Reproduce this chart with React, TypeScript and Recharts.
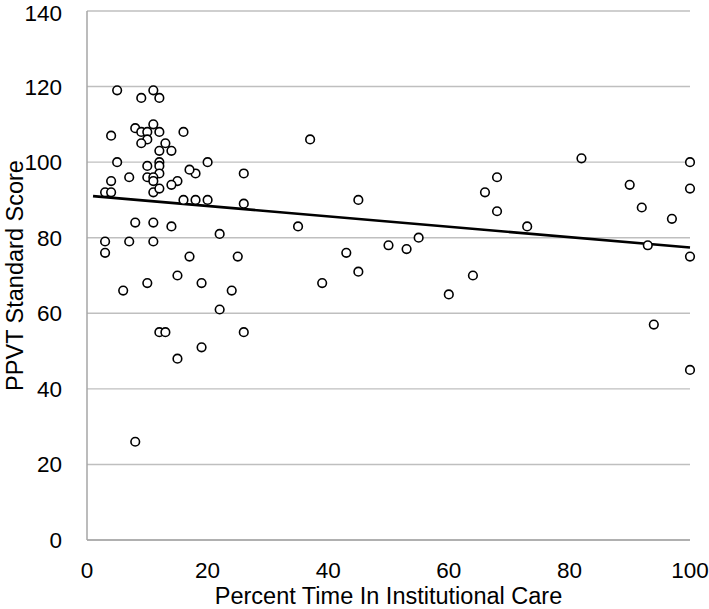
import { ScatterChart, Scatter, XAxis, YAxis, CartesianGrid } from "recharts";

// percent time in institutional care
const careX = [
  5, 11, 9, 12, 11, 8, 9, 10, 12, 16, 4, 10, 9, 13, 12, 14, 37, 5, 12, 20,
  12, 10, 12, 18, 17, 26, 7, 10, 11, 11, 4, 15, 14, 3, 4, 11, 12, 16, 18, 20,
  26, 45, 8, 11, 14, 35, 22, 3, 7, 11, 3, 17, 25, 15, 10, 19, 6, 24, 22, 12,
  13, 26, 19, 15, 8, 39, 43, 45, 50, 53, 55, 60, 64, 66, 68, 68, 73, 82, 90, 92,
  93, 94, 97, 100, 100, 100, 100,
];

// PPVT standard score
const ppvt = [
  119, 119, 117, 117, 110, 109, 108, 108, 108, 108, 107, 106, 105, 105, 103, 103, 106, 100, 100, 100,
  99, 99, 97, 97, 98, 97, 96, 96, 96, 95, 95, 95, 94, 92, 92, 92, 93, 90, 90, 90,
  89, 90, 84, 84, 83, 83, 81, 79, 79, 79, 76, 75, 75, 70, 68, 68, 66, 66, 61, 55,
  55, 55, 51, 48, 26, 68, 76, 71, 78, 77, 80, 65, 70, 92, 96, 87, 83, 101, 94, 88,
  78, 57, 85, 100, 93, 75, 45,
];

// fitted line ends
const trendX = [1, 100];
const trendY = [91, 77.4];

const xTicks = [0, 20, 40, 60, 80, 100];
const yTicks = [0, 20, 40, 60, 80, 100, 120, 140];

const xTitle = "Percent Time In Institutional Care";
const yTitle = "PPVT Standard Score";

const points = careX.map((x, i) => ({ x, y: ppvt[i] }));
const trend = trendX.map((x, i) => ({ x, y: trendY[i] }));

const font = "'Liberation Sans', Arial, sans-serif";

const Ring = (props: any) => (
  <circle cx={props.cx} cy={props.cy} r={4.3} fill="#fff" stroke="#000" strokeWidth={1.6} />
);

const XTitle = (props: any) => {
  const vb = props.viewBox;
  return (
    <text
      x={vb.x + vb.width / 2}
      y={vb.y + 56}
      textAnchor="middle"
      dominantBaseline="central"
      fontSize={23.5}
      fontFamily={font}
      fill="#000"
    >
      {xTitle}
    </text>
  );
};

const YTitle = (props: any) => {
  const vb = props.viewBox;
  const cx = 15;
  const cy = vb.y + vb.height / 2;
  return (
    <text
      x={cx}
      y={cy}
      transform={`rotate(-90 ${cx} ${cy})`}
      textAnchor="middle"
      dominantBaseline="central"
      fontSize={23.5}
      fontFamily={font}
      fill="#000"
    >
      {yTitle}
    </text>
  );
};

export default function App() {
  return (
    <div style={{ position: "absolute", left: 0, top: 0, background: "#fff" }}>
      <ScatterChart width={709} height={609} margin={{ top: 11, right: 19, bottom: 0, left: 0 }}>
        <CartesianGrid vertical={false} stroke="#bfbfbf" strokeWidth={1.4} />
        <XAxis
          type="number"
          dataKey="x"
          domain={[0, 100]}
          ticks={xTicks}
          height={69}
          tickLine={false}
          tickSize={0}
          tickMargin={22}
          axisLine={{ stroke: "#a6a6a6", strokeWidth: 1.5 }}
          tick={{ fill: "#000", fontSize: 22.5, fontFamily: font }}
          label={<XTitle />}
        />
        <YAxis
          type="number"
          dataKey="y"
          domain={[0, 140]}
          ticks={yTicks}
          width={87}
          tickLine={false}
          tickSize={0}
          tickMargin={25}
          axisLine={{ stroke: "#a6a6a6", strokeWidth: 1.5 }}
          tick={{ fill: "#000", fontSize: 22.5, fontFamily: font }}
          label={<YTitle />}
        />
        <Scatter
          data={trend}
          line={{ stroke: "#000", strokeWidth: 2.6 }}
          shape={() => <g />}
          isAnimationActive={false}
        />
        <Scatter data={points} shape={Ring} isAnimationActive={false} />
      </ScatterChart>
    </div>
  );
}
